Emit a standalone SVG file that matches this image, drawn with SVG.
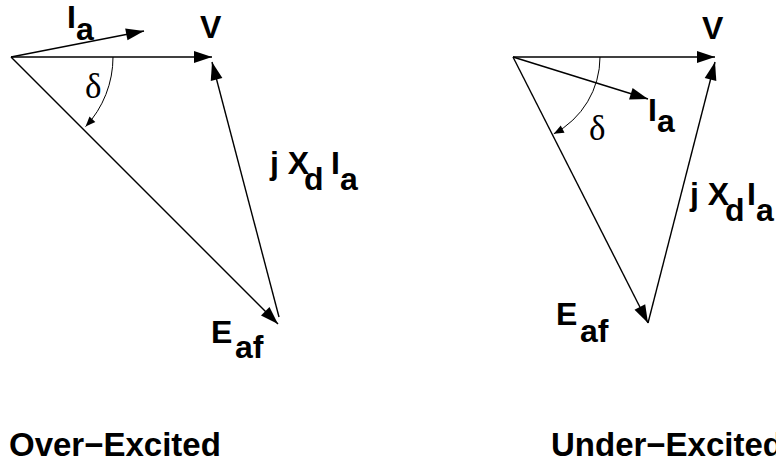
<svg xmlns="http://www.w3.org/2000/svg" width="776" height="463" viewBox="0 0 776 463">
<defs>
<style>
.ln{stroke:#000;stroke-width:1.4;fill:none}
.big{marker-end:url(#ah)}
.arc{stroke:#000;stroke-width:1;fill:none;marker-end:url(#sh)}
.lb{font-family:"Liberation Sans",Arial,Helvetica,sans-serif;font-weight:bold;font-size:32px;fill:#000}
.gk{font-family:"Liberation Serif","Times New Roman",serif;font-size:35px;fill:#000}
.ttl{font-family:"Liberation Sans",Arial,Helvetica,sans-serif;font-weight:bold;font-size:33px;fill:#000}
</style>
<marker id="ah" markerUnits="userSpaceOnUse" markerWidth="18" markerHeight="12" refX="18" refY="6" orient="auto" overflow="visible">
<path d="M0,0 L18,6 L0,12 z" fill="#000"/>
</marker>
<marker id="sh" markerUnits="userSpaceOnUse" markerWidth="10" markerHeight="8" refX="10" refY="4" orient="auto" overflow="visible">
<path d="M0,0 L10,4 L0,8 z" fill="#000"/>
</marker>
</defs>
<rect width="776" height="463" fill="#fff"/>
<g id="connectors">
<line class="ln big" x1="11" y1="57" x2="212" y2="57"/>
<line class="ln big" x1="11" y1="57" x2="144" y2="31"/>
<line class="ln big" x1="11" y1="57" x2="278" y2="324"/>
<line class="ln big" x1="279" y1="317" x2="212" y2="62"/>
<path class="arc" d="M113,57 A102,102 0 0 1 85.6,126.6"/>
<line class="ln big" x1="513" y1="57" x2="715" y2="57"/>
<line class="ln big" x1="513" y1="57" x2="648" y2="99"/>
<line class="ln big" x1="513" y1="57" x2="648" y2="323"/>
<line class="ln big" x1="648" y1="323" x2="715" y2="62"/>
<path class="arc" d="M600,57 A87,87 0 0 1 553.8,133.8"/>
</g>
<g id="over-excited">
<text class="lb" x="67" y="28">I<tspan dy="12">a</tspan></text>
<text class="lb" x="200" y="38">V</text>
<text class="gk" x="85" y="98">δ</text>
<text class="lb" x="270" y="174">j X<tspan x="304" dy="16">d</tspan><tspan x="331" dy="-16">I</tspan><tspan dy="16">a</tspan></text>
<text class="lb" x="211" y="343">E<tspan x="235" dy="15">af</tspan></text>
<text class="ttl" x="9" y="456">Over−Excited</text>
</g>
<g id="under-excited">
<text class="lb" x="702" y="39">V</text>
<text class="lb" x="648" y="121">I<tspan dy="11">a</tspan></text>
<text class="gk" x="589" y="140">δ</text>
<text class="lb" x="690" y="205">j X<tspan x="725" dy="16">d</tspan><tspan x="747" dy="-16">I</tspan><tspan dy="16">a</tspan></text>
<text class="lb" x="556" y="325">E<tspan x="580" dy="17">af</tspan></text>
<text class="ttl" x="551" y="456">Under−Excited</text>
</g>
</svg>
